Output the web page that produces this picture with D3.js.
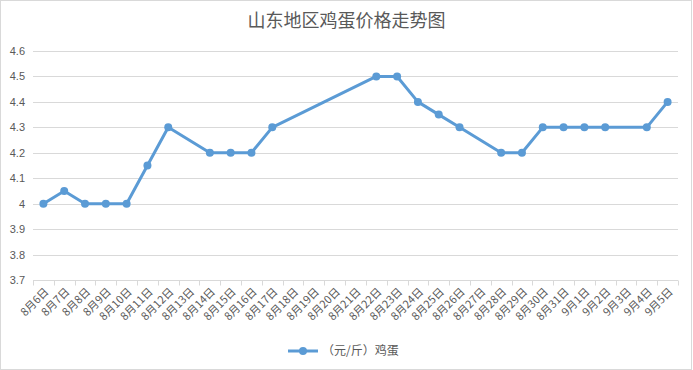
<!DOCTYPE html>
<html>
<head>
<meta charset="utf-8">
<script src="https://cdn.jsdelivr.net/npm/d3@7/dist/d3.min.js"></script>
<style>
  body { margin: 0; background: #fff; }
  text { font-family: "Noto Sans CJK SC", "Noto Sans", sans-serif; fill: #595959; }
</style>
</head>
<body>
<div id="chart"></div>
<script>
// categories (dates) and egg price per jin; null = no data that day
var dates = ["8月6日","8月7日","8月8日","8月9日","8月10日","8月11日","8月12日","8月13日",
  "8月14日","8月15日","8月16日","8月17日","8月18日","8月19日","8月20日","8月21日",
  "8月22日","8月23日","8月24日","8月25日","8月26日","8月27日","8月28日","8月29日",
  "8月30日","8月31日","9月1日","9月2日","9月3日","9月4日","9月5日"];
var prices = [4.0, 4.05, 4.0, 4.0, 4.0, 4.15, 4.3, null,
  4.2, 4.2, 4.2, 4.3, null, null, null, null,
  4.5, 4.5, 4.4, 4.35, 4.3, null, 4.2, 4.2,
  4.3, 4.3, 4.3, 4.3, null, 4.3, 4.4];
var yTicks = [3.7, 3.8, 3.9, 4, 4.1, 4.2, 4.3, 4.4, 4.5, 4.6];
var title = "山东地区鸡蛋价格走势图";
var seriesName = "（元/斤）鸡蛋";

(function () {
  'use strict';

  var W = 693, H = 370;
  var plot = { left: 33, right: 678, top: 51, bottom: 280 };
  var color = "#5B9BD5";

  var svg = d3.select("#chart").append("svg")
    .attr("width", W)
    .attr("height", H);

  // outer chart border
  svg.append("rect")
    .attr("x", 0.5).attr("y", 0.5)
    .attr("width", W - 2).attr("height", H - 1)
    .attr("fill", "#fff")
    .attr("stroke", "#d9d9d9");

  svg.append("text")
    .attr("x", W / 2)
    .attr("y", 27)
    .attr("text-anchor", "middle")
    .style("font-size", "18px")
    .text(title);

  var x = d3.scaleBand()
    .domain(dates)
    .range([plot.left, plot.right]);

  var y = d3.scaleLinear()
    .domain([3.7, 4.6])
    .range([plot.bottom, plot.top]);

  // gridlines
  svg.append("g")
    .selectAll("line")
    .data(yTicks.filter(function (d) { return d > 3.7; }))
    .enter().append("line")
    .attr("x1", plot.left).attr("x2", plot.right)
    .attr("y1", function (d) { return Math.round(y(d)) + 0.5; })
    .attr("y2", function (d) { return Math.round(y(d)) + 0.5; })
    .attr("stroke", "#d9d9d9");

  // y axis labels
  var yAxis = d3.axisLeft(y)
    .tickValues(yTicks)
    .tickSize(0)
    .tickPadding(8)
    .tickFormat(function (d) { return String(d); });

  var gy = svg.append("g")
    .attr("transform", "translate(" + plot.left + ",0)")
    .call(yAxis);
  gy.select(".domain").remove();
  gy.selectAll("text")
    .style("font-size", "11px")
    .style("font-family", "'Liberation Sans', sans-serif")
    .attr("fill", "#595959");

  // x axis with ticks between categories
  var gx = svg.append("g")
    .attr("transform", "translate(0," + (plot.bottom + 0.5) + ")");
  gx.append("line")
    .attr("x1", plot.left).attr("x2", plot.right)
    .attr("stroke", "#d9d9d9");
  gx.selectAll(".tk")
    .data(dates.concat(["end"]))
    .enter().append("line")
    .attr("class", "tk")
    .attr("x1", function (d, i) { return Math.round(plot.left + i * x.step()) + 0.5; })
    .attr("x2", function (d, i) { return Math.round(plot.left + i * x.step()) + 0.5; })
    .attr("y1", 0).attr("y2", 5)
    .attr("stroke", "#d9d9d9");

  gx.selectAll(".lbl")
    .data(dates)
    .enter().append("text")
    .attr("class", "lbl")
    .attr("text-anchor", "end")
    .style("font-size", "11px")
    .attr("transform", function (d) {
      var cx = x(d) + x.bandwidth() / 2 + 6;
      return "translate(" + cx + ",12) rotate(-45)";
    })
    .text(function (d) { return d; });

  // line, connecting across missing days
  var pts = dates.map(function (d, i) { return { date: d, value: prices[i] }; })
    .filter(function (p) { return p.value !== null; });

  var line = d3.line()
    .x(function (p) { return x(p.date) + x.bandwidth() / 2; })
    .y(function (p) { return y(p.value); });

  svg.append("path")
    .datum(pts)
    .attr("d", line)
    .attr("fill", "none")
    .attr("stroke", color)
    .attr("stroke-width", 3)
    .attr("stroke-linejoin", "round");

  svg.append("g")
    .selectAll("circle")
    .data(pts)
    .enter().append("circle")
    .attr("cx", function (p) { return x(p.date) + x.bandwidth() / 2; })
    .attr("cy", function (p) { return y(p.value); })
    .attr("r", 4)
    .attr("fill", color);

  // legend
  var lg = svg.append("g").attr("transform", "translate(288,351)");
  lg.append("line")
    .attr("x1", 0).attr("x2", 30)
    .attr("stroke", color)
    .attr("stroke-width", 3);
  lg.append("circle")
    .attr("cx", 15).attr("r", 4)
    .attr("fill", color);
  lg.append("text")
    .attr("x", 34)
    .attr("dy", "0.35em")
    .style("font-size", "12px")
    .text(seriesName);
})();
</script>
</body>
</html>
